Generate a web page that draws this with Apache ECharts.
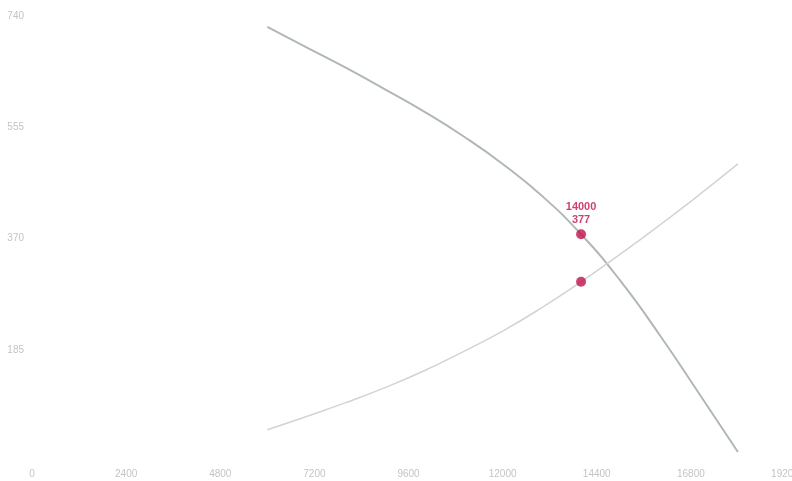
<!DOCTYPE html>
<html>
<head>
<meta charset="utf-8">
<script src="https://cdn.jsdelivr.net/npm/echarts@6/dist/echarts.min.js"></script>
<style>html,body{margin:0;padding:0;background:#fff}#c{width:792px;height:481px}</style>
</head>
<body>
<div id="c"></div>
<script>
const flow = [6000, 7000, 8000, 9000, 10000, 11000, 12000, 13000, 14000, 15000, 16000, 17000, 18000];
const pumpHead = [722, 688, 654, 618, 581, 540, 494, 441, 377, 300, 210, 113, 15];
const systemHead = [52, 74, 97, 122, 150, 182, 216, 255, 298, 344, 392, 442, 494];
const opPoints = [[14000, 377], [14000, 298]];
const xTicks = { min: 0, max: 19200, interval: 2400 };
const yTicks = { min: 0, max: 740, interval: 185 };

const chart = echarts.init(document.getElementById('c'));
chart.setOption({
  animation: false,
  grid: { left: 32, right: 7, top: 16, bottom: 20, outerBoundsMode: 'none', containLabel: false },
  xAxis: {
    type: 'value', min: xTicks.min, max: xTicks.max, interval: xTicks.interval,
    axisLine: { show: false }, axisTick: { show: false }, splitLine: { show: false },
    axisLabel: { color: '#c4c4c4', fontSize: 10, margin: 8, formatter: v => String(v) }
  },
  yAxis: {
    type: 'value', min: yTicks.min, max: yTicks.max, interval: yTicks.interval,
    axisLine: { show: false }, axisTick: { show: false }, splitLine: { show: false },
    axisLabel: { color: '#c4c4c4', fontSize: 10, margin: 8, showMinLabel: false }
  },
  series: [
    {
      type: 'line', smooth: true, showSymbol: false,
      data: flow.map((q, i) => [q, pumpHead[i]]),
      lineStyle: { color: '#b0b8b6', width: 2 }
    },
    {
      type: 'line', smooth: true, showSymbol: false,
      data: flow.map((q, i) => [q, systemHead[i]]),
      lineStyle: { color: '#d0d4d3', width: 1.5 }
    },
    {
      type: 'scatter', symbolSize: 10, z: 5,
      itemStyle: { color: '#c2104f' },
      data: [
        { value: opPoints[0], label: { show: true, position: 'top', distance: 3,
          formatter: p => p.value[0] + '\n' + p.value[1],
          color: '#c2104f', fontSize: 11, fontWeight: 'bold', lineHeight: 13 } },
        { value: opPoints[1] }
      ]
    }
  ]
});
</script>
</body>
</html>
